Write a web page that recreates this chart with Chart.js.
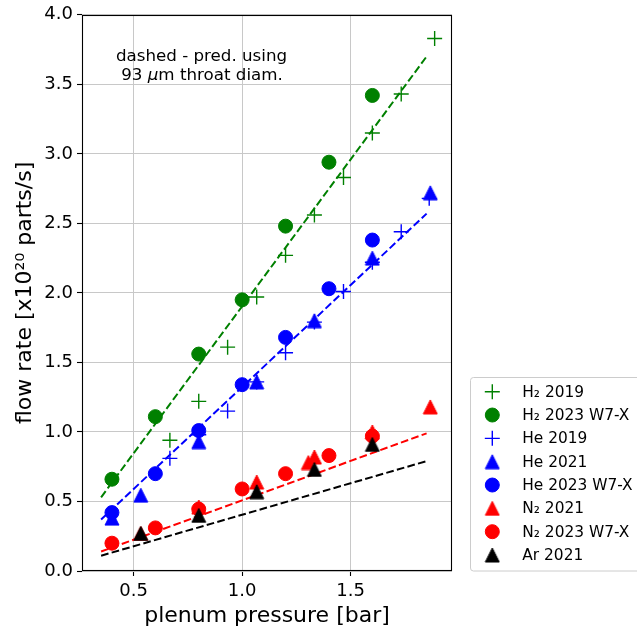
<!DOCTYPE html>
<html><head><meta charset="utf-8">
<script src="https://cdn.jsdelivr.net/npm/chart.js@4/dist/chart.umd.min.js"></script>
<style>html,body{margin:0;padding:0;background:#fff;overflow:hidden}canvas{display:block}</style>
</head><body><canvas id="c" width="637" height="631"></canvas>
<script>
// ---- data ----
const h2_2019_x = [0.667, 0.8, 0.933, 1.067, 1.2, 1.333, 1.467, 1.6, 1.733, 1.887];
const h2_2019_y = [0.94, 1.22, 1.61, 1.97, 2.27, 2.56, 2.83, 3.15, 3.43, 3.83];
const h2_2023_x = [0.4, 0.6, 0.8, 1.0, 1.2, 1.4, 1.6];
const h2_2023_y = [0.66, 1.11, 1.56, 1.95, 2.48, 2.94, 3.42];
const he_2019_x = [0.667, 0.8, 0.933, 1.067, 1.2, 1.333, 1.467, 1.6, 1.733, 1.862];
const he_2019_y = [0.81, 0.98, 1.15, 1.36, 1.57, 1.79, 2.01, 2.22, 2.44, 2.68];
const he_2021_x = [0.4, 0.533, 0.8, 1.067, 1.333, 1.6, 1.867];
const he_2021_y = [0.38, 0.545, 0.93, 1.36, 1.80, 2.25, 2.72];
const he_2023_x = [0.4, 0.6, 0.8, 1.0, 1.2, 1.4, 1.6];
const he_2023_y = [0.42, 0.70, 1.01, 1.34, 1.68, 2.03, 2.38];
const n2_2021_x = [0.533, 0.8, 1.067, 1.305, 1.333, 1.6, 1.867];
const n2_2021_y = [0.27, 0.46, 0.64, 0.78, 0.82, 1.0, 1.18];
const n2_2023_x = [0.4, 0.6, 0.8, 1.0, 1.2, 1.4, 1.6];
const n2_2023_y = [0.20, 0.31, 0.445, 0.59, 0.70, 0.83, 0.97];
const ar_2021_x = [0.533, 0.8, 1.067, 1.333, 1.6];
const ar_2021_y = [0.27, 0.40, 0.57, 0.73, 0.91];
// dashed predictions (93 um throat diameter)
const pred_x = [0.35, 1.85];
const pred_h2 = [0.53, 3.70];
const pred_he = [0.37, 2.57];
const pred_n2 = [0.14, 0.99];
const pred_ar = [0.11, 0.79];
// ticks / labels
const xTicks = [0.5, 1.0, 1.5];
const yTicks = [0.0, 0.5, 1.0, 1.5, 2.0, 2.5, 3.0, 3.5, 4.0];
const legendLabels = ['H\u2082 2019', 'H\u2082 2023 W7-X', 'He 2019', 'He 2021', 'He 2023 W7-X', 'N\u2082 2021', 'N\u2082 2023 W7-X', 'Ar 2021'];
const xTitle = 'plenum pressure [bar]';
const yTitle = 'flow rate [x10\u00B2\u2070 parts/s]';
const noteLine1 = 'dashed - pred. using';
const noteLine2 = ['93 ', '\u03BC', 'm throat diam.'];

const GREEN = '#008000', BLUE = '#0000ff', RED = '#ff0000', BLACK = '#000000';
const FONT = "'DejaVu Sans', sans-serif";

function tri(color) {
  const c = document.createElement('canvas');
  c.width = 16; c.height = 16;
  const g = c.getContext('2d');
  g.beginPath(); g.moveTo(8, 1); g.lineTo(15, 15); g.lineTo(1, 15); g.closePath();
  g.fillStyle = color; g.fill(); g.strokeStyle = color; g.lineWidth = 1; g.stroke();
  return c;
}
const pts = (xs, ys) => xs.map((x, i) => ({x, y: ys[i]}));

const markerSets = [
  {label: legendLabels[0], xs: h2_2019_x, ys: h2_2019_y, color: GREEN, style: 'cross'},
  {label: legendLabels[1], xs: h2_2023_x, ys: h2_2023_y, color: GREEN, style: 'circle'},
  {label: legendLabels[2], xs: he_2019_x, ys: he_2019_y, color: BLUE, style: 'cross'},
  {label: legendLabels[3], xs: he_2021_x, ys: he_2021_y, color: BLUE, style: 'tri'},
  {label: legendLabels[4], xs: he_2023_x, ys: he_2023_y, color: BLUE, style: 'circle'},
  {label: legendLabels[5], xs: n2_2021_x, ys: n2_2021_y, color: RED, style: 'tri'},
  {label: legendLabels[6], xs: n2_2023_x, ys: n2_2023_y, color: RED, style: 'circle'},
  {label: legendLabels[7], xs: ar_2021_x, ys: ar_2021_y, color: BLACK, style: 'tri'}
];
markerSets.forEach(m => { m.ps = m.style === 'tri' ? tri(m.color) : m.style; });

const datasets = [];
const preds = [[pred_h2, GREEN], [pred_he, BLUE], [pred_n2, RED], [pred_ar, BLACK]];
preds.forEach(([ys, col], i) => datasets.push({
  data: pts(pred_x, ys), showLine: true, borderColor: col, borderWidth: 2,
  borderDash: [7.7, 3.3], pointRadius: 0, fill: false, order: 100 - i
}));
markerSets.forEach((m, i) => datasets.push({
  label: m.label, data: pts(m.xs, m.ys), showLine: false,
  pointStyle: m.ps, pointRadius: m.style === 'cross' ? 7.5 : 7,
  pointBorderWidth: m.style === 'cross' ? 1.4 : 1,
  pointBackgroundColor: m.color, pointBorderColor: m.color, order: 50 - i
}));

const decor = {
  id: 'decor',
  afterDatasetsDraw(chart) {
    const ctx = chart.ctx, a = chart.chartArea;
    ctx.save();
    // spines
    ctx.strokeStyle = '#000'; ctx.lineWidth = 1.1;
    ctx.strokeRect(Math.round(a.left) + 0.5, Math.round(a.top) + 0.5,
      Math.round(a.right - a.left) - 1, Math.round(a.bottom - a.top) - 1);
    // note text
    ctx.fillStyle = '#000'; ctx.textBaseline = 'alphabetic';
    ctx.font = '16.7px ' + FONT; ctx.textAlign = 'center';
    ctx.fillText(noteLine1, 201.5, 61);
    ctx.textAlign = 'left';
    const fN = '16.7px ' + FONT, fI = 'italic 16.7px ' + FONT;
    ctx.font = fN; const w1 = ctx.measureText(noteLine2[0]).width;
    ctx.font = fI; const w2 = ctx.measureText(noteLine2[1]).width;
    ctx.font = fN; const w3 = ctx.measureText(noteLine2[2]).width;
    let x0 = 202 - (w1 + w2 + w3) / 2;
    ctx.font = fN; ctx.fillText(noteLine2[0], x0, 80);
    ctx.font = fI; ctx.fillText(noteLine2[1], x0 + w1, 80);
    ctx.font = fN; ctx.fillText(noteLine2[2], x0 + w1 + w2, 80);
    // legend
    const lx = 470.5, ly = 377.5, lw = 200, lh = 193.5, r = 3;
    ctx.beginPath();
    ctx.moveTo(lx + r, ly); ctx.lineTo(lx + lw - r, ly); ctx.arcTo(lx + lw, ly, lx + lw, ly + r, r);
    ctx.lineTo(lx + lw, ly + lh - r); ctx.arcTo(lx + lw, ly + lh, lx + lw - r, ly + lh, r);
    ctx.lineTo(lx + r, ly + lh); ctx.arcTo(lx, ly + lh, lx, ly + lh - r, r);
    ctx.lineTo(lx, ly + r); ctx.arcTo(lx, ly, lx + r, ly, r); ctx.closePath();
    ctx.fillStyle = 'rgba(255,255,255,0.8)'; ctx.fill();
    ctx.strokeStyle = '#cccccc'; ctx.lineWidth = 1; ctx.stroke();
    ctx.font = '15.4px ' + FONT; ctx.textBaseline = 'middle'; ctx.textAlign = 'left';
    markerSets.forEach((m, i) => {
      const y = 391.7 + i * 23.33;
      ctx.fillStyle = m.color; ctx.strokeStyle = m.color;
      ctx.lineWidth = m.style === 'cross' ? 1.4 : 1;
      Chart.helpers.drawPoint(ctx, {pointStyle: m.ps, radius: m.style === 'cross' ? 7.5 : 7,
        borderWidth: ctx.lineWidth, rotation: 0}, 492.3, y);
      ctx.fillStyle = '#000';
      ctx.fillText(m.label, 522.3, y + 1);
    });
    ctx.restore();
  }
};

new Chart(document.getElementById('c'), {
  type: 'scatter',
  data: {datasets},
  options: {
    responsive: false, animation: false, events: [],
    layout: {padding: {left: 0, top: 11, right: 185, bottom: 0}},
    plugins: {legend: {display: false}, tooltip: {enabled: false}},
    scales: {
      x: {
        type: 'linear', min: 0.262, max: 1.967,
        afterBuildTicks: s => { s.ticks = xTicks.map(v => ({value: v})); },
        afterFit: s => { s.height = 60; },
        ticks: {callback: v => Number(v).toFixed(1), color: '#000', padding: 5,
          font: {family: FONT, size: 18}, maxRotation: 0},
        grid: {color: '#c8c8c8', lineWidth: 1, tickColor: '#000', tickLength: 5, tickWidth: 1.1},
        border: {display: false},
        title: {display: true, text: xTitle, color: '#000', font: {family: FONT, size: 22},
          padding: {top: 0, bottom: 1.5}}
      },
      y: {
        type: 'linear', min: 0, max: 4,
        afterBuildTicks: s => { s.ticks = yTicks.map(v => ({value: v})); },
        afterFit: s => { s.width = 82; },
        ticks: {callback: v => Number(v).toFixed(1), color: '#000', padding: 4,
          font: {family: FONT, size: 18}},
        grid: {color: '#c8c8c8', lineWidth: 1, tickColor: '#000', tickLength: 5, tickWidth: 1.1},
        border: {display: false},
        title: {display: true, text: yTitle, color: '#000', font: {family: FONT, size: 22},
          padding: {top: 12, bottom: 0}}
      }
    }
  },
  plugins: [decor]
});
</script></body></html>
